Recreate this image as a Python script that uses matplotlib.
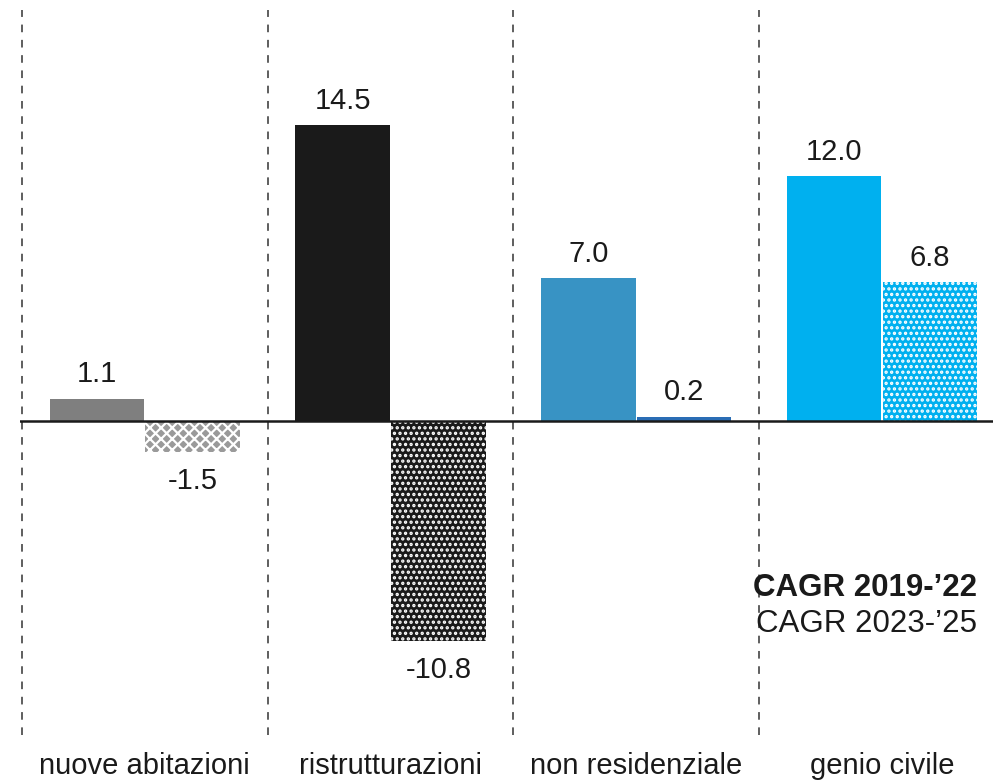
import matplotlib

matplotlib.use("Agg")
import matplotlib.pyplot as plt
import numpy as np

categories = ["nuove abitazioni", "ristrutturazioni", "non residenziale", "genio civile"]
cagr_2019_22 = [1.1, 14.5, 7.0, 12.0]
cagr_2023_25 = [-1.5, -10.8, 0.2, 6.8]
legend_labels = ["CAGR 2019-\u201922", "CAGR 2023-\u201925"]

colors_a = ["#7f7f7f", "#1a1a1a", "#3893c4", "#00b0ef"]
colors_b = ["#9a9a9a", "#1a1a1a", "#2a6db5", "#00b0ef"]
hatches_b = ["xxx", "...", None, "..."]

plt.rcParams["font.family"] = ["Liberation Sans", "DejaVu Sans"]
plt.rcParams["hatch.linewidth"] = 1.6

fig = plt.figure(figsize=(9.93, 7.8), dpi=100)
ax = fig.add_axes([20 / 993, 45 / 780, 973 / 993, 725 / 780])

x = np.arange(len(categories))
width = 0.385
offset = 0.195

ax.bar(x - offset, cagr_2019_22, width, color=colors_a, linewidth=0)
bars_b = ax.bar(x + offset, cagr_2023_25, width, color=colors_b, linewidth=0)
for bar, h in zip(bars_b, hatches_b):
    if h:
        bar.set_hatch(h)
        bar.set_edgecolor("white")

for xi, v in zip(x - offset, cagr_2019_22):
    ax.annotate(f"{v:.1f}", (xi, v), xytext=(0, 12), textcoords="offset points",
                ha="center", va="baseline", fontsize=21, color="#1a1a1a")
for xi, v in zip(x + offset, cagr_2023_25):
    if v >= 0:
        ax.annotate(f"{v:.1f}", (xi, v), xytext=(0, 12), textcoords="offset points",
                    ha="center", va="baseline", fontsize=21, color="#1a1a1a")
    else:
        ax.annotate(f"{v:.1f}", (xi, v), xytext=(0, -11), textcoords="offset points",
                    ha="center", va="top", fontsize=21, color="#1a1a1a")

ax.axhline(0, color="#1a1a1a", linewidth=1.8, zorder=3)
for sep in np.arange(len(categories)) - 0.5:
    ax.axvline(sep, color="#333333", linewidth=1.1, linestyle=(0, (5, 5)))

ax.set_xlim(-0.508, 3.452)
ax.set_ylim(-15.4, 20.15)
ax.set_xticks(x)
ax.set_xticklabels(categories, fontsize=21, color="#1a1a1a")
ax.tick_params(axis="x", length=0, pad=12)
ax.set_yticks([])
for s in ax.spines.values():
    s.set_visible(False)

ax.text(0.9836, 0.192, legend_labels[0], transform=ax.transAxes, ha="right",
        va="baseline", fontsize=22.5, fontweight="bold", color="#1a1a1a")
ax.text(0.9836, 0.142, legend_labels[1], transform=ax.transAxes, ha="right",
        va="baseline", fontsize=22.5, color="#1a1a1a")

fig.savefig("out.png", dpi=100)
